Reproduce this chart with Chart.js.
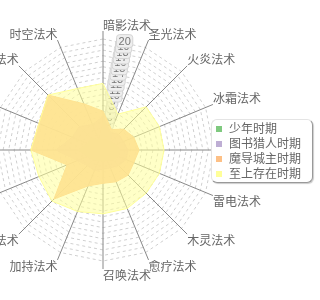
<!DOCTYPE html>
<html>
<head>
<meta charset="utf-8">
<style>
	html, body { margin: 0; padding: 0; background: #fff; }
	#wrap { position: relative; width: 320px; height: 300px; overflow: hidden; }
	#box { position: absolute; left: -40px; top: 0; width: 360px; height: 300px; }
	#legend {
		position: absolute; left: 211px; top: 119px; width: 100px; height: 62px;
		background: #fff; border: 1px solid #e4e4e4; border-right-color: #999; border-bottom-color: #999;
		border-radius: 6px; box-shadow: 1px 1px 1px #ccc;
		font: 12px "Noto Sans CJK SC", sans-serif; color: #666;
	}
	.legend-card { position: absolute; left: 4px; height: 15px; line-height: 15px; white-space: nowrap; }
	.legend-card span { display: inline-block; width: 6px; height: 6px; margin-right: 7px; vertical-align: 1px; }
</style>
</head>
<body>
<div id="wrap">
	<div id="box"><canvas id="graf"></canvas></div>
	<div id="legend"></div>
</div>
<script src="https://cdn.jsdelivr.net/npm/chart.js"></script>
<script>
	const labels = [
		"暗影法术", "圣光法术", "火炎法术", "冰霜法术",
		"风暴法术", "雷电法术", "木灵法术", "愈疗法术",
		"召唤法术", "加持法术", "诅咒法术", "幻惑法术",
		"元素法术", "精神法术", "封印法术", "时空法术",
	];
	const seriesNames = ["少年时期", "图书猎人时期", "魔导城主时期", "至上存在时期"];
	const colors = ["#7fc97f", "#beaed4", "#fdc086", "#ffff99"];

	let datagreen = [2, 2, 2, 2.5, 3, 3, 2.5, 2, 2, 2, 2.5, 3, 4.5, 3, 3, 2];
	let datapurple = [6, 3.5, 4, 4, 4.5, 4.5, 4, 3.5, 3.5, 4, 4, 5, 8.5, 6, 6, 5];
	let dataorange = [7, 4, 5.3, 6, 6.5, 6, 6.4, 6.2, 6, 7, 12.5, 7, 13, 12.5, 14, 9];
	let datayellow = [12, 7, 11, 11, 11, 11, 11, 11.4, 11.5, 12, 13, 12.5, 13, 12.5, 14, 12];

	function alpha(hex, a) {
		const n = parseInt(hex.slice(1), 16);
		return `rgba(${n >> 16},${(n >> 8) & 255},${n & 255},${a})`;
	}

	// axis lines, tick boxes and axis names
	const axisPlugin = {
		id: "axisPlugin",
		beforeDatasetsDraw(chart) {
			const s = chart.scales.r;
			const ctx = chart.ctx;
			const outer = s.drawingArea + 8;
			ctx.save();
			ctx.strokeStyle = "#888";
			ctx.lineWidth = 1;
			for (let i = 0; i < labels.length; i++) {
				const p = s.getPointPosition(i, outer);
				ctx.beginPath();
				ctx.moveTo(s.xCenter, s.yCenter);
				ctx.lineTo(p.x, p.y);
				ctx.stroke();
			}

			ctx.font = '11px "Liberation Sans"';
			ctx.textAlign = "center";
			ctx.textBaseline = "middle";
			s.ticks.forEach((t) => {
				if (t.value === 0) return;
				const p = s.getPointPosition(0.5, s.getDistanceFromCenterForValue(t.value));
				const w = ctx.measureText(t.label).width + 4;
				ctx.beginPath();
				ctx.roundRect(p.x - w / 2, p.y - 6.5, w, 13, 3);
				ctx.fillStyle = "#eeeeee";
				ctx.fill();
				ctx.strokeStyle = "#d4d4d4";
				ctx.stroke();
				ctx.fillStyle = "#777";
				ctx.fillText(t.label, p.x, p.y + 0.5);
			});

			ctx.font = '12px "Noto Sans CJK SC"';
			ctx.fillStyle = "#666";
			for (let i = 0; i < labels.length; i++) {
				const p = s.getPointPosition(i, outer);
				ctx.textAlign = p.x < s.xCenter - 1 ? "right" : "left";
				let dy = 0;
				if (p.y < s.yCenter - 1) dy = -6;
				else if (p.y > s.yCenter + 1) dy = 6;
				ctx.fillText(labels[i], p.x, p.y + dy);
			}
			ctx.restore();
		},
	};

	const series = [datagreen, datapurple, dataorange, datayellow];

	var graf = new Chart(document.getElementById("graf"), {
		type: "radar",
		data: {
			labels: labels,
			datasets: series.map((d, i) => ({
				label: seriesNames[i],
				data: d,
				fill: true,
				order: series.length - 1 - i,
				backgroundColor: alpha(colors[i], i === 3 ? 0.55 : 0.9),
				borderColor: colors[i],
				borderWidth: 1,
				pointRadius: 0,
			})),
		},
		options: {
			responsive: true,
			maintainAspectRatio: false,
			animation: false,
			layout: { padding: { top: 39, bottom: 39, left: 0, right: 74 } },
			plugins: {
				legend: { display: false },
				tooltip: { enabled: false },
			},
			scales: {
				r: {
					min: 0,
					max: 20,
					ticks: { stepSize: 1, display: false },
					grid: { circular: false, color: "#d0d0d0", lineWidth: 1 },
					border: { dash: [3, 3] },
					angleLines: { display: false },
					pointLabels: { display: false },
				},
			},
		},
		plugins: [axisPlugin],
	});

	for (let i = 0; i < seriesNames.length; i++) {
		var card = document.createElement("div");
		card.className = "legend-card";
		card.style.top = 0 + i * 15 + "px";
		card.innerHTML = `<span style="background:${colors[i]}"></span>${seriesNames[i]}`;
		document.getElementById("legend").appendChild(card);
	}
</script>
</body>
</html>
